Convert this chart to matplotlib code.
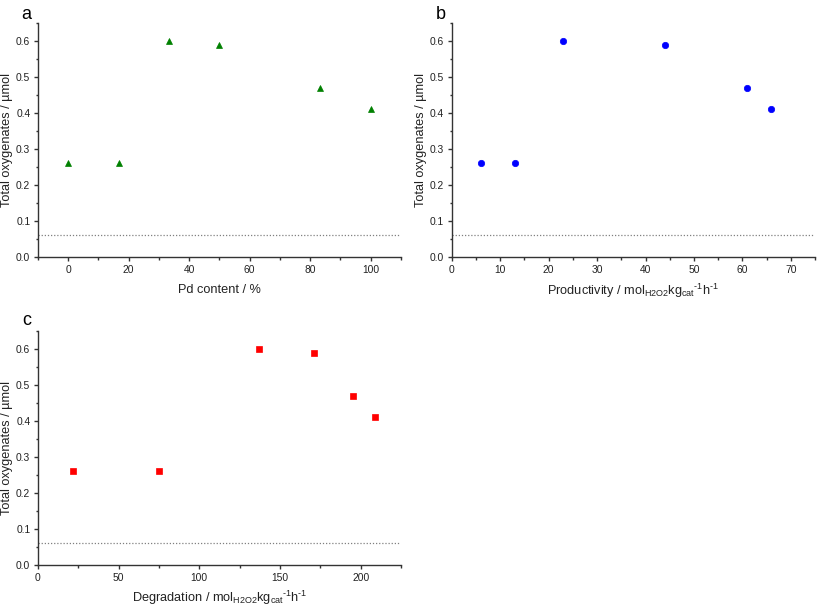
import matplotlib
matplotlib.use("Agg")
import matplotlib.pyplot as plt
from matplotlib.ticker import MultipleLocator, FormatStrFormatter

plt.rcParams['font.family'] = ['Liberation Sans', 'DejaVu Sans']
plt.rcParams['mathtext.fontset'] = 'custom'
plt.rcParams['mathtext.rm'] = 'Liberation Sans'
plt.rcParams['mathtext.default'] = 'regular'

# Data
pd_content = [0, 16.7, 33.3, 50, 83.3, 100]
productivity = [6, 13, 23, 44, 61, 66]
degradation = [22, 75, 137, 171, 195, 209]
oxygenates = [0.26, 0.26, 0.60, 0.59, 0.47, 0.41]
blank_level = 0.06

fig = plt.figure(figsize=(8.17, 6.07), dpi=100)
ax_a = fig.add_axes([0.0465, 0.5766, 0.4443, 0.3854])
ax_b = fig.add_axes([0.553, 0.5766, 0.4446, 0.3854])
ax_c = fig.add_axes([0.0465, 0.0692, 0.4443, 0.3855])

specs = [
    (ax_a, pd_content, '^', 'green', 4.8, (-10, 110), 20, 10, 'Pd content / %', 6.5),
    (ax_b, productivity, 'o', 'blue', 4.6, (0, 75), 10, 5,
     'Productivity / mol$_{H2O2}$kg$_{cat}$$^{\u2010\u0031}$h$^{\u2010\u0031}$', 5),
    (ax_c, degradation, 's', 'red', 3.7, (0, 225), 50, 25,
     'Degradation / mol$_{H2O2}$kg$_{cat}$$^{\u2010\u0031}$h$^{\u2010\u0031}$', 4.5),
]

for ax, xs, mk, col, ms, xlim, xmaj, xmin, xlabel, lpad in specs:
    ax.plot(xs, oxygenates, linestyle='none', marker=mk, color=col,
            markersize=ms, markeredgewidth=0.5)
    ax.axhline(blank_level, color='gray', linestyle=(0, (1, 1.5)), linewidth=0.9)
    ax.set_xlim(*xlim)
    ax.set_ylim(0, 0.65)
    ax.xaxis.set_major_locator(MultipleLocator(xmaj))
    ax.xaxis.set_minor_locator(MultipleLocator(xmin))
    ax.yaxis.set_major_locator(MultipleLocator(0.1))
    ax.yaxis.set_minor_locator(MultipleLocator(0.05))
    ax.yaxis.set_major_formatter(FormatStrFormatter('%.1f'))
    for s in ['top', 'right']:
        ax.spines[s].set_visible(False)
    for s in ['left', 'bottom']:
        ax.spines[s].set_color('#333333')
        ax.spines[s].set_linewidth(1.0)
    ax.tick_params(which='major', direction='out', length=3, width=1, colors='#333333',
                   labelsize=7.4, labelcolor='#222222', pad=2.5)
    ax.tick_params(which='minor', direction='out', length=1.8, width=1, colors='#333333')
    ax.set_xlabel(xlabel, fontsize=9.2, color='#222222', labelpad=lpad)
    ax.set_ylabel('Total oxygenates / \u00b5mol', fontsize=9.2, color='#222222')
    ax.yaxis.set_label_coords(-0.068, 0.5)

fig.text(0.026, 0.990, 'a', fontsize=13, va='top', ha='left')
fig.text(0.533, 0.990, 'b', fontsize=13, va='top', ha='left')
fig.text(0.027, 0.486, 'c', fontsize=13, va='top', ha='left')

fig.savefig('out.png', dpi=100)
